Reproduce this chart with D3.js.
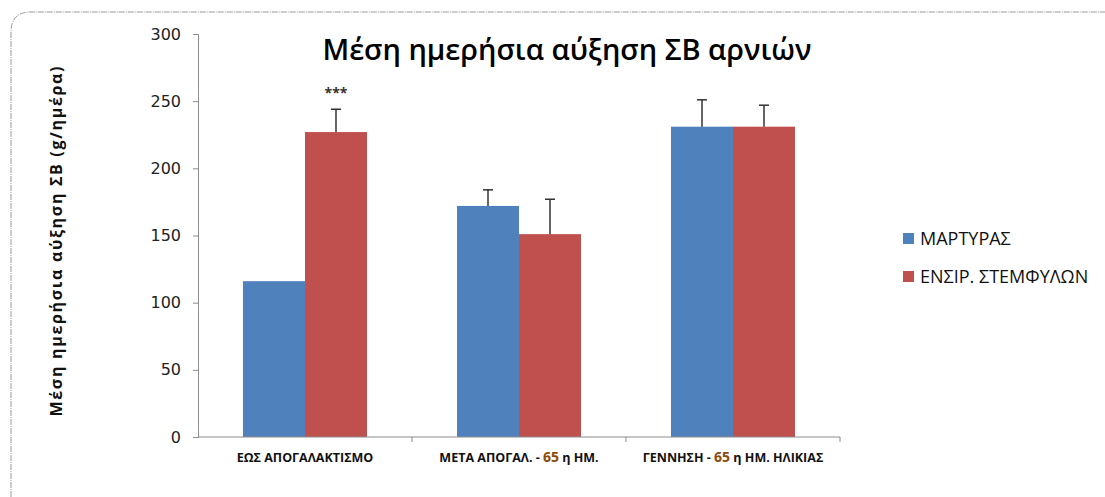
<!DOCTYPE html>
<html>
<head>
<meta charset="utf-8">
<script src="https://cdn.jsdelivr.net/npm/d3@7"></script>
<style>
  body { margin: 0; background: #fff; }
  text { font-family: "Open Sans", "DejaVu Sans", sans-serif; }
</style>
</head>
<body>
<svg id="chart" width="1105" height="497"></svg>
<script>
// data
const categories = ['ΕΩΣ ΑΠΟΓΑΛΑΚΤΙΣΜΟ', 'ΜΕΤΑ ΑΠΟΓΑΛ. - 65 η  ΗΜ.', 'ΓΕΝΝΗΣΗ - 65 η ΗΜ. ΗΛΙΚΙΑΣ'];
const seriesNames = ['ΜΑΡΤΥΡΑΣ', 'ΕΝΣΙΡ. ΣΤΕΜΦΥΛΩΝ'];
const controlValues = [116, 172, 231];
const silageValues = [227, 151, 231];
const controlErrTop = [116, 184, 251];
const silageErrTop = [244, 177, 247];
const yTicks = [0, 50, 100, 150, 200, 250, 300];
const colors = ['#4F81BD', '#C0504D'];

const svg = d3.select('#chart');

// outer frame
svg.append('path')
    .attr('d', 'M11,497 L11,32 Q11,12 31,12 L1105,12')
    .attr('fill', 'none')
    .attr('stroke', '#999')
    .attr('stroke-width', 1)
    .attr('stroke-dasharray', '6,1,1,1');

const margin = {left: 198, right: 840, top: 34, bottom: 437};

const x0 = d3.scaleBand()
    .domain(categories)
    .range([margin.left, margin.right])
    .paddingInner(0)
    .paddingOuter(0);

const x1 = d3.scaleBand()
    .domain(seriesNames)
    .range([0, x0.bandwidth()])
    .paddingInner(0)
    .paddingOuter(0.726);

const y = d3.scaleLinear()
    .domain([0, 300])
    .range([margin.bottom, margin.top]);

const series = [
    {name: seriesNames[0], values: controlValues, err: controlErrTop},
    {name: seriesNames[1], values: silageValues, err: silageErrTop}
];

// y axis
const yAxis = svg.append('g')
    .attr('transform', 'translate(' + margin.left + ',0)')
    .call(d3.axisLeft(y).tickValues(yTicks).tickSize(5).tickPadding(12));
yAxis.select('.domain').attr('stroke', '#8c8c8c');
yAxis.selectAll('.tick line').attr('stroke', '#8c8c8c');
yAxis.selectAll('.tick text')
    .style('font-size', '16px')
    .style('font-family', 'DejaVu Sans, sans-serif')
    .attr('fill', '#222');

// bars
series.forEach(function(s, si) {
    svg.append('g')
        .selectAll('rect')
        .data(s.values)
        .enter().append('rect')
        .attr('x', function(d, i) { return x0(categories[i]) + x1(s.name); })
        .attr('y', function(d) { return y(d); })
        .attr('width', x1.bandwidth())
        .attr('height', function(d) { return y(0) - y(d); })
        .attr('fill', colors[si]);
});

// x axis (drawn over bars)
const xAxis = svg.append('g')
    .attr('transform', 'translate(0,' + margin.bottom + ')');
xAxis.append('line')
    .attr('x1', margin.left).attr('x2', margin.right)
    .attr('stroke', '#8c8c8c');
const bounds = categories.map(function(c) { return x0(c) + x0.bandwidth(); });
xAxis.selectAll('line.tk')
    .data(bounds)
    .enter().append('line')
    .attr('class', 'tk')
    .attr('x1', function(d) { return d; }).attr('x2', function(d) { return d; })
    .attr('y1', 0).attr('y2', 5)
    .attr('stroke', '#8c8c8c');

// error bars (skipped where there is none)
series.forEach(function(s) {
    const g = svg.append('g');
    s.err.forEach(function(e, i) {
        if (e <= s.values[i]) return;
        const cx = x0(categories[i]) + x1(s.name) + x1.bandwidth() / 2;
        g.append('line')
            .attr('x1', cx).attr('x2', cx)
            .attr('y1', y(s.values[i])).attr('y2', y(e))
            .attr('stroke', '#333').attr('stroke-width', 1.5);
        g.append('line')
            .attr('x1', cx - 5).attr('x2', cx + 5)
            .attr('y1', y(e)).attr('y2', y(e))
            .attr('stroke', '#333').attr('stroke-width', 1.5);
    });
});

// significance mark
svg.append('text')
    .attr('x', x0(categories[0]) + x1(seriesNames[1]) + x1.bandwidth() / 2)
    .attr('y', y(silageErrTop[0]) - 11)
    .attr('text-anchor', 'middle')
    .style('font-size', '14px')
    .style('font-weight', 'bold')
    .attr('fill', '#333')
    .text('***');

// category labels, with the "65" coloured as in the source
const catParts = [
    [['ΕΩΣ ΑΠΟΓΑΛΑΚΤΙΣΜΟ', false]],
    [['ΜΕΤΑ ΑΠΟΓΑΛ. - ', false], ['65', true], [' η  ΗΜ.', false]],
    [['ΓΕΝΝΗΣΗ - ', false], ['65', true], [' η ΗΜ. ΗΛΙΚΙΑΣ', false]]
];
categories.forEach(function(c, i) {
    const t = svg.append('text')
        .attr('x', x0(c) + x0.bandwidth() / 2)
        .attr('y', 462)
        .attr('text-anchor', 'middle')
        .style('font-size', '12.5px')
        .style('font-weight', 'bold')
        .attr('fill', '#111');
    catParts[i].forEach(function(p) {
        t.append('tspan')
            .attr('fill', p[1] ? '#8a4b08' : '#111')
            .style('font-size', p[1] ? '14px' : '12.5px')
            .text(p[0]);
    });
});

// title
svg.append('text')
    .attr('x', 567)
    .attr('y', 60)
    .attr('text-anchor', 'middle')
    .style('font-size', '29px')
    .style('font-weight', '600')
    .attr('fill', '#000')
    .text('Μέση ημερήσια αύξηση ΣΒ αρνιών');

// y axis title
svg.append('text')
    .attr('transform', 'translate(62,' + ((margin.top + margin.bottom) / 2 + 6) + ') rotate(-90)')
    .attr('text-anchor', 'middle')
    .attr('textLength', 350)
    .attr('lengthAdjust', 'spacing')
    .style('font-size', '16px')
    .style('font-weight', 'bold')
    .attr('fill', '#111')
    .text('Μέση ημερήσια αύξηση ΣΒ (g/ημέρα)');

// legend
const legend = svg.append('g')
    .selectAll('g')
    .data(seriesNames)
    .enter().append('g')
    .attr('transform', function(d, i) { return 'translate(903,' + (233 + i * 38) + ')'; });
legend.append('rect')
    .attr('width', 11).attr('height', 11)
    .attr('fill', function(d, i) { return colors[i]; });
legend.append('text')
    .attr('x', 17)
    .attr('y', 12)
    .style('font-size', '18px')
    .attr('fill', '#111')
    .text(function(d) { return d; });
</script>
</body>
</html>
